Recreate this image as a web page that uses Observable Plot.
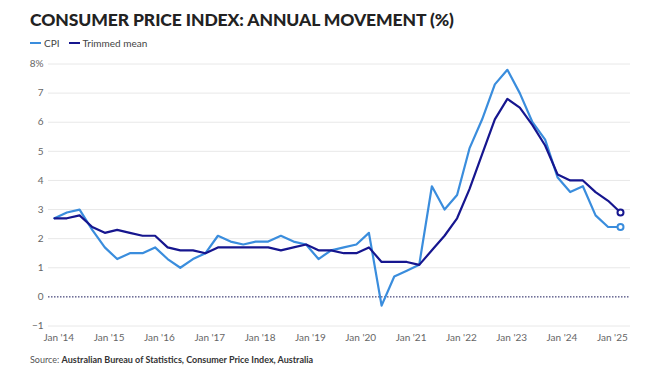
<!DOCTYPE html>
<html>
<head>
<meta charset="utf-8">
<script src="https://cdn.jsdelivr.net/npm/d3@7"></script>
<script src="https://cdn.jsdelivr.net/npm/@observablehq/plot@0.6"></script>
<style>
  html, body { margin: 0; padding: 0; background: #fff; }
  body { width: 650px; height: 378px; position: relative; overflow: hidden; font-family: Lato, "Open Sans", sans-serif; }
  #title { position: absolute; left: 30px; top: 9px; font-family: Lato, sans-serif; font-weight: 900; font-size: 17.5px; color: #222; letter-spacing: -0.1px; white-space: nowrap; }
  #legend { position: absolute; left: 30px; top: 37px; font-size: 10px; color: #444; display: flex; align-items: center; white-space: nowrap; }
  #legend .sw { display: inline-block; width: 11px; height: 2.5px; margin-right: 3px; }
  #legend .item { display: inline-flex; align-items: center; margin-right: 9px; }
  #chart { position: absolute; left: 0; top: 50px; }
  #source { position: absolute; left: 30px; top: 354px; font-size: 9px; color: #555; white-space: nowrap; }
  #source b { color: #333; font-weight: 700; }
</style>
</head>
<body>
<div id="title">CONSUMER PRICE INDEX: ANNUAL MOVEMENT (%)</div>
<div id="legend"></div>
<div id="chart"></div>
<div id="source">Source: <b>Australian Bureau of Statistics, Consumer Price Index, Australia</b></div>
<script>
const quarters = [
  "2013-12","2014-03","2014-06","2014-09","2014-12","2015-03","2015-06","2015-09","2015-12",
  "2016-03","2016-06","2016-09","2016-12","2017-03","2017-06","2017-09","2017-12",
  "2018-03","2018-06","2018-09","2018-12","2019-03","2019-06","2019-09","2019-12",
  "2020-03","2020-06","2020-09","2020-12","2021-03","2021-06","2021-09","2021-12",
  "2022-03","2022-06","2022-09","2022-12","2023-03","2023-06","2023-09","2023-12",
  "2024-03","2024-06","2024-09","2024-12","2025-03"
];
const cpi = [
  2.7, 2.9, 3.0, 2.3, 1.7, 1.3, 1.5, 1.5, 1.7,
  1.3, 1.0, 1.3, 1.5, 2.1, 1.9, 1.8, 1.9,
  1.9, 2.1, 1.9, 1.8, 1.3, 1.6, 1.7, 1.8,
  2.2, -0.3, 0.7, 0.9, 1.1, 3.8, 3.0, 3.5,
  5.1, 6.1, 7.3, 7.8, 7.0, 6.0, 5.4, 4.1,
  3.6, 3.8, 2.8, 2.4, 2.4
];
const trimmedMean = [
  2.7, 2.7, 2.8, 2.4, 2.2, 2.3, 2.2, 2.1, 2.1,
  1.7, 1.6, 1.6, 1.5, 1.7, 1.7, 1.7, 1.7,
  1.7, 1.6, 1.7, 1.8, 1.6, 1.6, 1.5, 1.5,
  1.7, 1.2, 1.2, 1.2, 1.1, 1.6, 2.1, 2.7,
  3.7, 4.9, 6.1, 6.8, 6.5, 5.9, 5.2, 4.2,
  4.0, 4.0, 3.6, 3.3, 2.9
];
const seriesNames = ["CPI", "Trimmed mean"];
const seriesColors = ["#3a8ddd", "#16168f"];
const xTickYears = [2014,2015,2016,2017,2018,2019,2020,2021,2022,2023,2024,2025];
const yTicks = [-1,0,1,2,3,4,5,6,7,8];

// legend
const legend = document.getElementById("legend");
seriesNames.forEach((n, i) => {
  const it = document.createElement("span");
  it.className = "item";
  it.innerHTML = `<span class="sw" style="background:${seriesColors[i]}"></span>${n}`;
  legend.appendChild(it);
});

const parse = d3.utcParse("%Y-%m");
const rows = [];
quarters.forEach((q, i) => {
  rows.push({date: parse(q), value: cpi[i], series: seriesNames[0]});
  rows.push({date: parse(q), value: trimmedMean[i], series: seriesNames[1]});
});
const lastRows = seriesNames.map(s => rows.filter(r => r.series === s).at(-1));
const xTicks = xTickYears.map(y => new Date(Date.UTC(y, 0, 1)));
const xFmt = d => "Jan '" + String(d.getUTCFullYear()).slice(2);
const yFmt = d => d === 8 ? "8%" : d < 0 ? "\u2212" + Math.abs(d) : String(d);

const chart = Plot.plot({
  width: 650,
  height: 300,
  marginTop: 13.5,
  marginBottom: 24.5,
  marginLeft: 48,
  marginRight: 20,
  insetLeft: 6,
  insetRight: 10,
  style: {fontFamily: "Lato, 'Open Sans', sans-serif", fontSize: "10px", color: "#666", background: "transparent"},
  x: {type: "utc", domain: [parse(quarters[0]), parse(quarters.at(-1))], label: null},
  y: {domain: [-1, 8], label: null},
  color: {domain: seriesNames, range: seriesColors},
  marks: [
    Plot.ruleY(yTicks.filter(d => d !== 0), {stroke: "#e8e8e8", strokeWidth: 1}),
    Plot.ruleY([0], {stroke: "#1a1a5a", strokeWidth: 1, strokeDasharray: "1.5,1.5"}),
    Plot.axisX({ticks: xTicks, tickFormat: xFmt, tickSize: 0, tickPadding: 8, fill: "#666"}),
    Plot.axisY({ticks: yTicks, tickFormat: yFmt, tickSize: 0, tickPadding: 5, fill: "#666"}),
    Plot.line(rows, {x: "date", y: "value", z: "series", stroke: "series", strokeWidth: 2.2, curve: "linear"}),
    Plot.dot(lastRows, {x: "date", y: "value", stroke: "series", fill: "white", r: 3, strokeWidth: 2})
  ]
});
document.getElementById("chart").appendChild(chart);
</script>
</body>
</html>
